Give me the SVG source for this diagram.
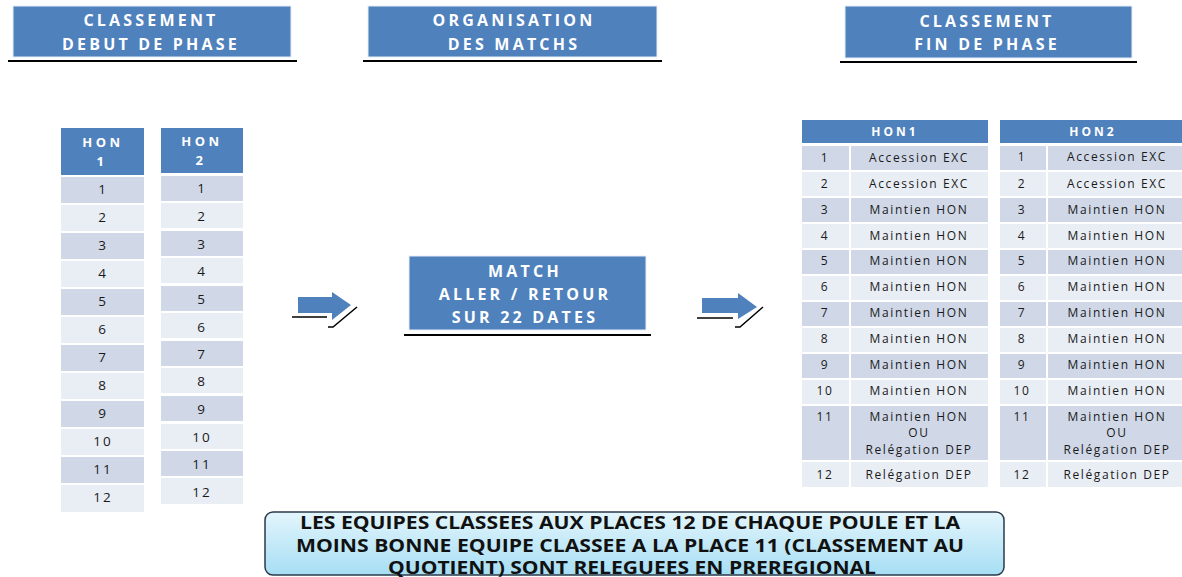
<svg xmlns="http://www.w3.org/2000/svg" width="1182" height="577" viewBox="0 0 1182 577">
<style>
.hdr{fill:#4f81bd;stroke:#e8eef7;stroke-width:1}
.ul{stroke:#000;stroke-width:2;fill:none}
.ht{font-family:"Open Sans","Liberation Sans",sans-serif;font-weight:bold;font-size:16px;fill:#fff;text-anchor:middle;letter-spacing:3.2px}
.th{fill:#4f81bd}
.tht{font-family:"Open Sans","Liberation Sans",sans-serif;font-weight:bold;font-size:13px;fill:#fff;text-anchor:middle;letter-spacing:3.5px}
.dk{fill:#d0d8e8}
.lt{fill:#e9edf4}
.nt{font-family:"Open Sans","Liberation Sans",sans-serif;font-size:13.5px;fill:#1a1a1a;text-anchor:middle;letter-spacing:2px}
.rt{font-family:"Open Sans","Liberation Sans",sans-serif;font-size:12px;fill:#1a1a1a;text-anchor:middle;letter-spacing:1.6px}
.rht{font-family:"Open Sans","Liberation Sans",sans-serif;font-weight:bold;font-size:12px;fill:#fff;text-anchor:middle;letter-spacing:3px}
.arr{fill:#4f81bd}
.sh{stroke:#000;stroke-width:1.5;fill:none}
.bt{font-family:"Open Sans","Liberation Sans",sans-serif;font-weight:bold;font-size:18px;fill:#111;text-anchor:middle}
</style>
<defs>
<linearGradient id="bg" x1="0" y1="0" x2="0" y2="1">
<stop offset="0" stop-color="#e3f5fc"/>
<stop offset="1" stop-color="#a6def4"/>
</linearGradient>
</defs>

<g id="header-debut">
<rect class="hdr" x="13" y="6" width="278" height="51"/>
<line class="ul" x1="8" y1="61" x2="297" y2="61"/>
<text class="ht" x="151" y="26">CLASSEMENT</text>
<text class="ht" x="151" y="50">DEBUT DE PHASE</text>
</g>

<g id="header-organisation">
<rect class="hdr" x="368" y="6" width="289" height="51"/>
<line class="ul" x1="363" y1="61" x2="662" y2="61"/>
<text class="ht" x="514" y="26">ORGANISATION</text>
<text class="ht" x="514" y="50">DES MATCHS</text>
</g>

<g id="header-fin">
<rect class="hdr" x="845" y="6" width="287" height="52"/>
<line class="ul" x1="840" y1="62" x2="1137" y2="62"/>
<text class="ht" x="987" y="27">CLASSEMENT</text>
<text class="ht" x="987" y="50">FIN DE PHASE</text>
</g>

<g id="table-debut-hon1">
<rect class="th" x="61" y="128" width="83" height="47"/>
<text class="tht" x="103" y="147">HON</text>
<text class="tht" x="102" y="166">1</text>
<rect class="dk" x="61" y="177" width="83" height="26"/>
<rect class="lt" x="61" y="205" width="83" height="26"/>
<rect class="dk" x="61" y="233" width="83" height="26"/>
<rect class="lt" x="61" y="261" width="83" height="26"/>
<rect class="dk" x="61" y="289" width="83" height="26"/>
<rect class="lt" x="61" y="317" width="83" height="26"/>
<rect class="dk" x="61" y="345" width="83" height="26"/>
<rect class="lt" x="61" y="373" width="83" height="26"/>
<rect class="dk" x="61" y="401" width="83" height="26"/>
<rect class="lt" x="61" y="429" width="83" height="26"/>
<rect class="dk" x="61" y="457" width="83" height="26"/>
<rect class="lt" x="61" y="485" width="83" height="27"/>
<text class="nt" x="103" y="194">1</text>
<text class="nt" x="103" y="222">2</text>
<text class="nt" x="103" y="250">3</text>
<text class="nt" x="103" y="278">4</text>
<text class="nt" x="103" y="306">5</text>
<text class="nt" x="103" y="334">6</text>
<text class="nt" x="103" y="362">7</text>
<text class="nt" x="103" y="390">8</text>
<text class="nt" x="103" y="418">9</text>
<text class="nt" x="103" y="446">10</text>
<text class="nt" x="103" y="474">11</text>
<text class="nt" x="103" y="502">12</text>
</g>

<g id="table-debut-hon2">
<rect class="th" x="161" y="128" width="82" height="45"/>
<text class="tht" x="202" y="146">HON</text>
<text class="tht" x="201" y="165">2</text>
<rect class="dk" x="161" y="176" width="82" height="25"/>
<rect class="lt" x="161" y="203" width="82" height="25"/>
<rect class="dk" x="161" y="231" width="82" height="25"/>
<rect class="lt" x="161" y="258" width="82" height="25"/>
<rect class="dk" x="161" y="286" width="82" height="25"/>
<rect class="lt" x="161" y="313" width="82" height="25"/>
<rect class="dk" x="161" y="341" width="82" height="25"/>
<rect class="lt" x="161" y="368" width="82" height="25"/>
<rect class="dk" x="161" y="396" width="82" height="25"/>
<rect class="lt" x="161" y="424" width="82" height="25"/>
<rect class="dk" x="161" y="451" width="82" height="25"/>
<rect class="lt" x="161" y="478" width="82" height="26"/>
<text class="nt" x="202" y="193">1</text>
<text class="nt" x="202" y="221">2</text>
<text class="nt" x="202" y="249">3</text>
<text class="nt" x="202" y="276">4</text>
<text class="nt" x="202" y="304">5</text>
<text class="nt" x="202" y="332">6</text>
<text class="nt" x="202" y="359">7</text>
<text class="nt" x="202" y="386">8</text>
<text class="nt" x="202" y="414">9</text>
<text class="nt" x="202" y="442">10</text>
<text class="nt" x="202" y="469">11</text>
<text class="nt" x="202" y="497">12</text>
</g>

<g id="match-box">
<rect class="hdr" x="409" y="256" width="237" height="74"/>
<line class="ul" x1="404" y1="335" x2="651" y2="335"/>
<text class="ht" x="525" y="277">MATCH</text>
<text class="ht" x="525" y="300">ALLER / RETOUR</text>
<text class="ht" x="525" y="323">SUR 22 DATES</text>
</g>

<g id="connectors">
<g id="arrow-1">
<polygon class="arr" points="298,297 332,297 332,292 351,305 332,320 332,313 298,313"/>
<polyline class="sh" points="292,317 327,317"/>
<polyline class="sh" points="328,327 333,327 357,307"/>
</g>
<g id="arrow-2">
<polygon class="arr" points="702,298 738,298 738,293 757,307 738,319 738,313 702,313"/>
<polyline class="sh" points="697,318 733,318"/>
<polyline class="sh" points="735,327 740,327 763,307"/>
</g>
</g>

<g id="table-fin-hon1">
<rect class="th" x="802" y="120" width="186" height="23"/>
<text class="rht" x="895" y="136">HON1</text>
<g>
<rect class="dk" x="802" y="146" width="47" height="24"/><rect class="dk" x="851" y="146" width="137" height="24"/>
<rect class="lt" x="802" y="172" width="47" height="24"/><rect class="lt" x="851" y="172" width="137" height="24"/>
<rect class="dk" x="802" y="198" width="47" height="24"/><rect class="dk" x="851" y="198" width="137" height="24"/>
<rect class="lt" x="802" y="224" width="47" height="24"/><rect class="lt" x="851" y="224" width="137" height="24"/>
<rect class="dk" x="802" y="250" width="47" height="24"/><rect class="dk" x="851" y="250" width="137" height="24"/>
<rect class="lt" x="802" y="276" width="47" height="24"/><rect class="lt" x="851" y="276" width="137" height="24"/>
<rect class="dk" x="802" y="302" width="47" height="24"/><rect class="dk" x="851" y="302" width="137" height="24"/>
<rect class="lt" x="802" y="328" width="47" height="24"/><rect class="lt" x="851" y="328" width="137" height="24"/>
<rect class="dk" x="802" y="354" width="47" height="24"/><rect class="dk" x="851" y="354" width="137" height="24"/>
<rect class="lt" x="802" y="380" width="47" height="24"/><rect class="lt" x="851" y="380" width="137" height="24"/>
<rect class="dk" x="802" y="406" width="47" height="54"/><rect class="dk" x="851" y="406" width="137" height="54"/>
<rect class="lt" x="802" y="462" width="47" height="25"/><rect class="lt" x="851" y="462" width="137" height="25"/>
</g>
<text class="rt" x="825" y="162">1</text><text class="rt" x="919" y="162">Accession EXC</text>
<text class="rt" x="825" y="188">2</text><text class="rt" x="919" y="188">Accession EXC</text>
<text class="rt" x="825" y="214">3</text><text class="rt" x="919" y="214">Maintien HON</text>
<text class="rt" x="825" y="240">4</text><text class="rt" x="919" y="240">Maintien HON</text>
<text class="rt" x="825" y="265">5</text><text class="rt" x="919" y="265">Maintien HON</text>
<text class="rt" x="825" y="291">6</text><text class="rt" x="919" y="291">Maintien HON</text>
<text class="rt" x="825" y="317">7</text><text class="rt" x="919" y="317">Maintien HON</text>
<text class="rt" x="825" y="343">8</text><text class="rt" x="919" y="343">Maintien HON</text>
<text class="rt" x="825" y="369">9</text><text class="rt" x="919" y="369">Maintien HON</text>
<text class="rt" x="825" y="395">10</text><text class="rt" x="919" y="395">Maintien HON</text>
<text class="rt" x="825" y="421">11</text><text class="rt" x="919" y="421">Maintien HON</text>
<text class="rt" x="919" y="437">OU</text>
<text class="rt" x="919" y="454">Relégation DEP</text>
<text class="rt" x="825" y="479">12</text><text class="rt" x="919" y="479">Relégation DEP</text>
</g>

<g id="table-fin-hon2">
<rect class="th" x="1000" y="120" width="186" height="23"/>
<text class="rht" x="1093" y="136">HON2</text>
<g>
<rect class="dk" x="1000" y="146" width="46" height="24"/><rect class="dk" x="1048" y="146" width="138" height="24"/>
<rect class="lt" x="1000" y="172" width="46" height="24"/><rect class="lt" x="1048" y="172" width="138" height="24"/>
<rect class="dk" x="1000" y="198" width="46" height="24"/><rect class="dk" x="1048" y="198" width="138" height="24"/>
<rect class="lt" x="1000" y="224" width="46" height="24"/><rect class="lt" x="1048" y="224" width="138" height="24"/>
<rect class="dk" x="1000" y="250" width="46" height="24"/><rect class="dk" x="1048" y="250" width="138" height="24"/>
<rect class="lt" x="1000" y="276" width="46" height="24"/><rect class="lt" x="1048" y="276" width="138" height="24"/>
<rect class="dk" x="1000" y="302" width="46" height="24"/><rect class="dk" x="1048" y="302" width="138" height="24"/>
<rect class="lt" x="1000" y="328" width="46" height="24"/><rect class="lt" x="1048" y="328" width="138" height="24"/>
<rect class="dk" x="1000" y="354" width="46" height="24"/><rect class="dk" x="1048" y="354" width="138" height="24"/>
<rect class="lt" x="1000" y="380" width="46" height="24"/><rect class="lt" x="1048" y="380" width="138" height="24"/>
<rect class="dk" x="1000" y="406" width="46" height="54"/><rect class="dk" x="1048" y="406" width="138" height="54"/>
<rect class="lt" x="1000" y="462" width="46" height="25"/><rect class="lt" x="1048" y="462" width="138" height="25"/>
</g>
<text class="rt" x="1022" y="161">1</text><text class="rt" x="1117" y="161">Accession EXC</text>
<text class="rt" x="1022" y="188">2</text><text class="rt" x="1117" y="188">Accession EXC</text>
<text class="rt" x="1022" y="214">3</text><text class="rt" x="1117" y="214">Maintien HON</text>
<text class="rt" x="1022" y="240">4</text><text class="rt" x="1117" y="240">Maintien HON</text>
<text class="rt" x="1022" y="265">5</text><text class="rt" x="1117" y="265">Maintien HON</text>
<text class="rt" x="1022" y="291">6</text><text class="rt" x="1117" y="291">Maintien HON</text>
<text class="rt" x="1022" y="317">7</text><text class="rt" x="1117" y="317">Maintien HON</text>
<text class="rt" x="1022" y="343">8</text><text class="rt" x="1117" y="343">Maintien HON</text>
<text class="rt" x="1022" y="369">9</text><text class="rt" x="1117" y="369">Maintien HON</text>
<text class="rt" x="1022" y="395">10</text><text class="rt" x="1117" y="395">Maintien HON</text>
<text class="rt" x="1022" y="421">11</text><text class="rt" x="1117" y="421">Maintien HON</text>
<text class="rt" x="1117" y="437">OU</text>
<text class="rt" x="1117" y="454">Relégation DEP</text>
<text class="rt" x="1022" y="479">12</text><text class="rt" x="1117" y="479">Relégation DEP</text>
</g>

<g id="note-box">
<rect x="265" y="512" width="739" height="63" rx="8" fill="url(#bg)" stroke="#2a3a4a" stroke-width="1.5"/>
<text class="bt" x="630" y="529" textLength="660" lengthAdjust="spacingAndGlyphs">LES EQUIPES CLASSEES AUX PLACES 12 DE CHAQUE POULE ET LA</text>
<text class="bt" x="630" y="552" textLength="668" lengthAdjust="spacingAndGlyphs">MOINS BONNE EQUIPE CLASSEE A LA PLACE 11 (CLASSEMENT AU</text>
<text class="bt" x="632" y="574" textLength="488" lengthAdjust="spacingAndGlyphs">QUOTIENT) SONT RELEGUEES EN PREREGIONAL</text>
</g>
</svg>
